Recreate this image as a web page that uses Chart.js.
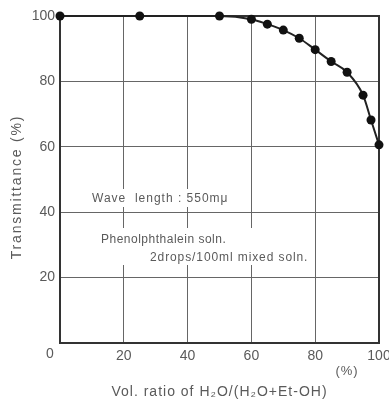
<!DOCTYPE html>
<html><head><meta charset="utf-8">
<script src="https://cdn.jsdelivr.net/npm/chart.js@4/dist/chart.umd.min.js"></script>
<style>html,body{margin:0;padding:0;background:#fff}#wrap{width:389px;height:400px}</style>
</head><body><div id="wrap"><canvas id="c" width="389" height="400"></canvas></div>
<script>
const waterRatio = [0, 25, 50, 60, 65, 70, 75, 80, 85, 90, 95, 97.5, 100];
const transmittance = [100, 100, 100, 99, 97.5, 95.7, 93.2, 89.7, 86.1, 82.8, 75.8, 68.2, 60.6];
const xTicks = [0, 20, 40, 60, 80, 100];
const yTicks = [0, 20, 40, 60, 80, 100];
const xTitle = 'Vol. ratio of H\u2082O/(H\u2082O+Et-OH)';
const yTitle = 'Transmittance (%)';
const notes = ['Wave  length : 550m\u03bc', 'Phenolphthalein soln.', '2drops/100ml mixed soln.'];

const FONT = '"Liberation Sans", Arial, sans-serif';
const TXT = '#5a5a5a';

const overlay = {
  id: 'overlay',
  beforeDraw(chart) {
    const ctx = chart.ctx;
    ctx.save(); ctx.fillStyle = '#fff'; ctx.fillRect(0, 0, chart.width, chart.height); ctx.restore();
  },
  beforeDatasetsDraw(chart) {
    const ctx = chart.ctx, a = chart.chartArea;
    ctx.save();
    ctx.fillStyle = '#fff';
    ctx.fillRect(88, 189, 144, 18);
    ctx.fillRect(96, 228, 216, 37);
    ctx.strokeStyle = '#333'; ctx.lineWidth = 2;
    ctx.strokeRect(a.left, a.top, a.right - a.left, a.bottom - a.top);
    ctx.restore();
  },
  afterDraw(chart) {
    const ctx = chart.ctx, a = chart.chartArea;
    const xs = chart.scales.x, ys = chart.scales.y;
    ctx.save();
    ctx.fillStyle = TXT;
    ctx.textBaseline = 'middle';
    ctx.font = '12px ' + FONT;
    ctx.textAlign = 'left';
    ctx.letterSpacing = '1px';
    ctx.fillText(notes[0], 92, 199);
    ctx.letterSpacing = '0.5px';
    ctx.fillText(notes[1], 101, 240);
    ctx.letterSpacing = '0.9px';
    ctx.fillText(notes[2], 150, 258);
    ctx.letterSpacing = '0px';
    ctx.font = '14px ' + FONT;
    ctx.textAlign = 'center';
    ctx.fillText(String(xTicks[0]), xs.getPixelForValue(xTicks[0]) - 10, ys.getPixelForValue(0) + 11);
    ctx.font = '13px ' + FONT;
    ctx.letterSpacing = '1px';
    ctx.fillText('(%)', a.right - 32, a.bottom + 28);
    ctx.font = '14px ' + FONT;
    ctx.letterSpacing = '1px';
    ctx.fillText(xTitle, (a.left + a.right) / 2, 392);
    ctx.translate(17, 187);
    ctx.rotate(-Math.PI / 2);
    ctx.letterSpacing = '1.8px';
    ctx.fillText(yTitle, 0, 0);
    ctx.restore();
  }
};

new Chart(document.getElementById('c'), {
  type: 'line',
  data: {
    datasets: [{
      data: waterRatio.map((x, i) => ({ x, y: transmittance[i] })),
      borderColor: '#222',
      borderWidth: 2,
      pointBackgroundColor: '#111',
      pointBorderColor: '#111',
      pointRadius: 4.5,
      pointBorderWidth: 0,
      cubicInterpolationMode: 'monotone',
      clip: false
    }]
  },
  options: {
    responsive: false,
    animation: false,
    devicePixelRatio: 1,
    layout: { padding: { left: 0, right: 10, top: 16, bottom: 0 } },
    plugins: { legend: { display: false }, tooltip: { enabled: false } },
    scales: {
      x: {
        type: 'linear', min: 0, max: 100,
        afterBuildTicks: s => { s.ticks = xTicks.map(v => ({ value: v })); },
        afterFit: s => { s.height = 57; s.paddingLeft = 0; s.paddingRight = 0; },
        grid: { color: '#666', lineWidth: 1, drawTicks: false },
        border: { display: false },
        ticks: { padding: 5, color: TXT, font: { family: FONT, size: 14 }, maxRotation: 0,
          callback: v => v === 0 ? '' : String(v) }
      },
      y: {
        type: 'linear', min: 0, max: 100,
        afterBuildTicks: s => { s.ticks = yTicks.map(v => ({ value: v })); },
        afterFit: s => { s.width = 60; s.paddingTop = 0; s.paddingBottom = 0; },
        grid: { color: '#666', lineWidth: 1, drawTicks: false },
        border: { display: false },
        ticks: { padding: 5, color: TXT, font: { family: FONT, size: 14 },
          callback: v => v === 0 ? '' : String(v) }
      }
    }
  },
  plugins: [overlay]
});
</script>
</body></html>
